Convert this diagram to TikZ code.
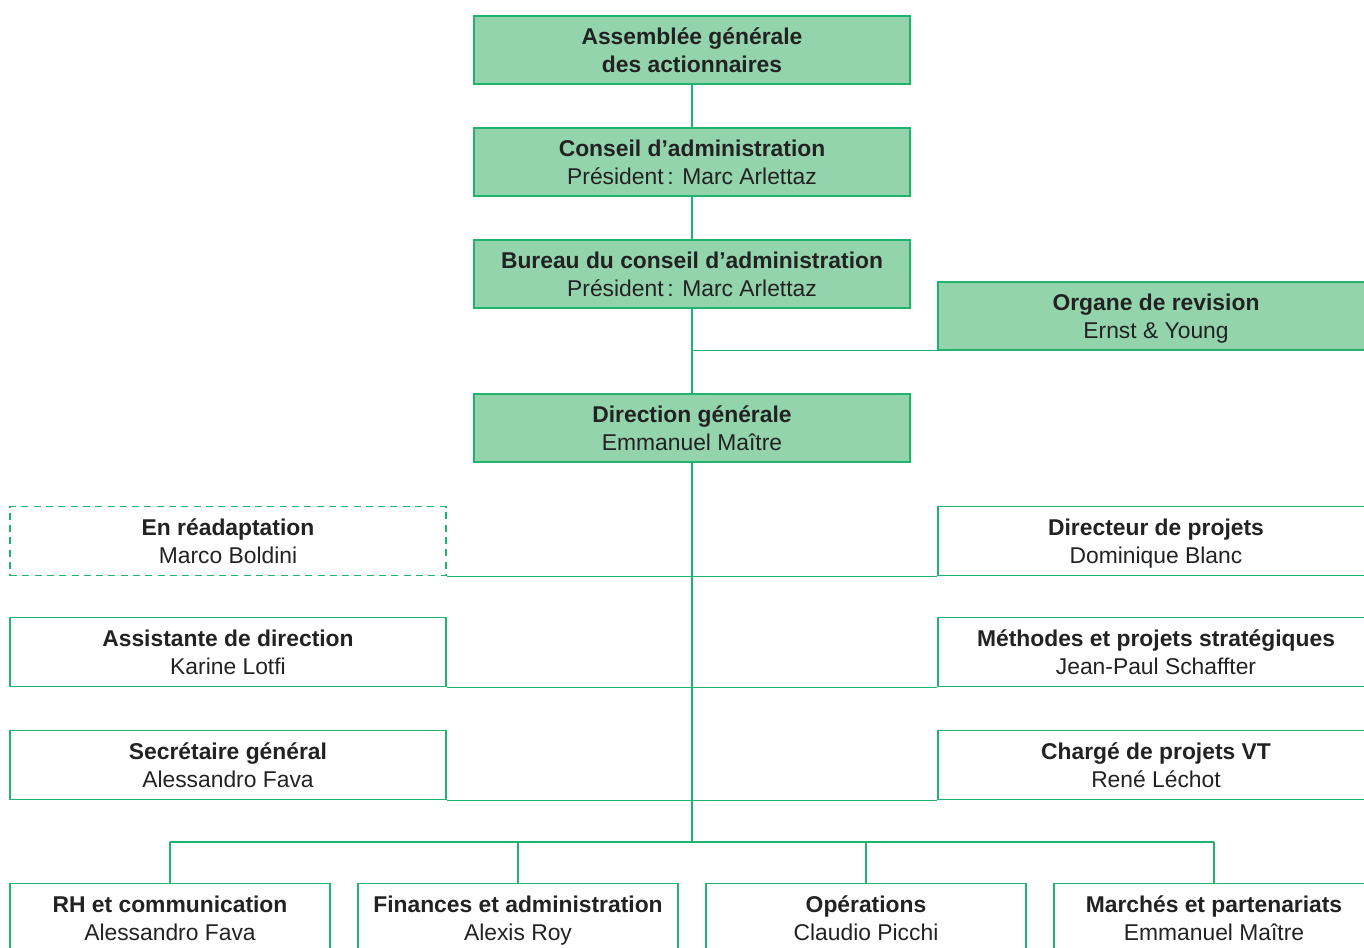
\documentclass[tikz,border=0pt]{standalone}
\usepackage{fontspec}
\setmainfont{Liberation Sans}
\definecolor{boxgreen}{HTML}{93D4AC}
\definecolor{linegreen}{HTML}{1EB46E}
\definecolor{txtgray}{HTML}{222222}
\begin{document}
\begin{tikzpicture}[x=0.02cm,y=-0.02cm,
    orgbox/.style={draw=linegreen, line width=0.85pt, minimum width=8.72cm, minimum height=1.38cm,
      inner sep=0pt, align=center, text=txtgray, font=\fontsize{13}{15.9}\selectfont,
      execute at end node=\rule[-2.4pt]{0pt}{30.4pt}},
    boardbox/.style={orgbox, fill=boxgreen, minimum height=1.36cm},
    unitbox/.style={orgbox, minimum width=6.4cm},
    link/.style={draw=linegreen, line width=0.85pt}]
        \useasboundingbox (0,0) rectangle (1364,947);

        %governance
        \node[boardbox] (agm) at (692,50) {\bfseries Assemblée générale\\ \bfseries des actionnaires};
        \node[boardbox] (ca) at (692,162) {\bfseries Conseil d’administration\\ Président\,: Marc Arlettaz};
        \node[boardbox] (bureau) at (692,274) {\bfseries Bureau du conseil d’administration\\ Président\,: Marc Arlettaz};
        \node[boardbox] (organe) at (1156,316) {\bfseries Organe de revision\\ Ernst \& Young};
        \node[boardbox] (dg) at (692,428) {\bfseries Direction générale\\ Emmanuel Maître};

        % staff left and right
        \node[orgbox, dashed, dash pattern=on 4pt off 3pt] (readapt) at (228,541) {\bfseries En réadaptation\\ Marco Boldini};
        \node[orgbox] (projets) at (1156,541) {\bfseries Directeur de projets\\ Dominique Blanc};
        \node[orgbox] (assist) at (228,652) {\bfseries Assistante de direction\\ Karine Lotfi};
        \node[orgbox] (methodes) at (1156,652) {\bfseries Méthodes et projets stratégiques\\ Jean-Paul Schaffter};
        \node[orgbox] (secret) at (228,765) {\bfseries Secrétaire général\\ Alessandro Fava};
        \node[orgbox] (vt) at (1156,765) {\bfseries Chargé de projets VT\\ René Léchot};

        % departments
        \node[unitbox] (rh) at (170,918) {\bfseries RH et communication\\ Alessandro Fava};
        \node[unitbox] (fin) at (518,918) {\bfseries Finances et administration\\ Alexis Roy};
        \node[unitbox] (ops) at (866,918) {\bfseries Opérations\\ Claudio Picchi};
        \node[unitbox] (marches) at (1214,918) {\bfseries Marchés et partenariats\\ Emmanuel Maître};

        \coordinate (bus) at (692,842);

        % vertical
        \draw[link] (agm) -- (ca);
        \draw[link] (ca) -- (bureau);
        \draw[link] (bureau) -- (dg);
        \draw[link] (dg) -- (bus);
        \draw[link] (organe.south west) -- (organe.south west -| bureau.south);

        % horizental
        \draw[link] (readapt.south east) -- (projets.south west);
        \draw[link] (assist.south east) -- (methodes.south west);
        \draw[link] (secret.south east) -- (vt.south west);
        \draw[link] (bus -| rh) -- (bus -| marches);
        \foreach \u in {rh,fin,ops,marches}
            \draw[link] (\u) -- (\u |- bus);
    \end{tikzpicture}
\end{document}
